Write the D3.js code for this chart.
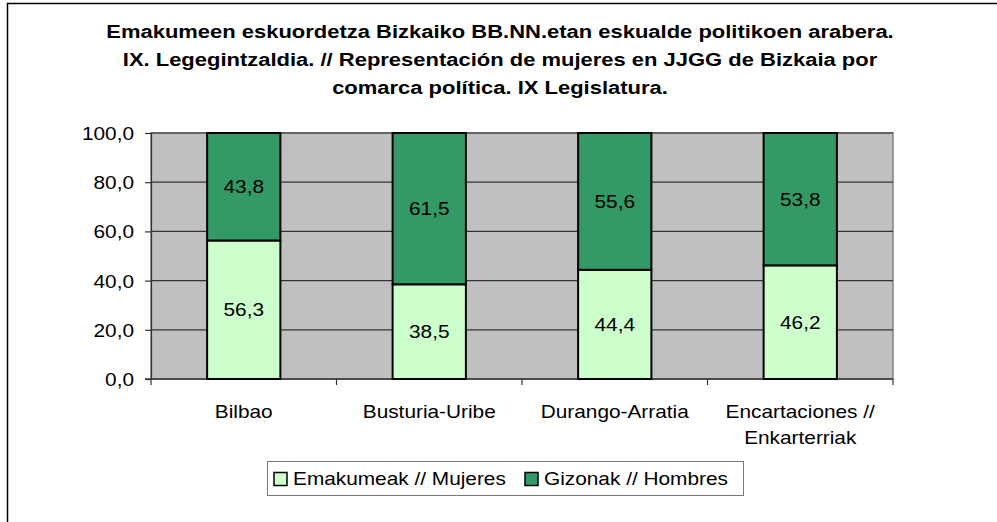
<!DOCTYPE html>
<html><head><meta charset="utf-8">
<script src="https://cdn.jsdelivr.net/npm/d3@7/dist/d3.min.js"></script>
<style>body{margin:0;background:#fff}svg{display:block;font-family:Arial,"Liberation Sans",sans-serif}</style>
</head><body><svg id="c" width="997" height="522"></svg>
<script>
const titleLines = ["Emakumeen eskuordetza Bizkaiko BB.NN.etan eskualde politikoen arabera.",
  "IX. Legegintzaldia. // Representación de mujeres en JJGG de Bizkaia por",
  "comarca política. IX Legislatura."];
const categories = [["Bilbao"],["Busturia-Uribe"],["Durango-Arratia"],["Encartaciones //","Enkarterriak"]];
const mujeres = [56.3, 38.5, 44.4, 46.2];
const hombres = [43.8, 61.5, 55.6, 53.8];
const seriesNames = ["Emakumeak // Mujeres", "Gizonak // Hombres"];
const yTicks = [0,20,40,60,80,100];
const colors = ["#ccffcc", "#339966"];

const SX = 1.157; // horizontal stretch of text in the reference
const FS = 18;
const fmt = v => d3.format(".1f")(v).replace(".", ",");

const svg = d3.select("#c");
svg.append("rect").attr("x",7.5).attr("y",3.5).attr("width",1000).attr("height",530)
  .attr("fill","#fff").attr("stroke","#000").attr("stroke-width",1.5);

function stxt(parent, x, y, str, opts={}) {
  const t = parent.append("text")
    .attr("transform", `translate(${x},${y}) scale(${SX},1)`)
    .attr("text-anchor", opts.anchor || "middle")
    .attr("font-size", opts.size || FS)
    .attr("fill", "#000")
    .text(str);
  if (opts.bold) t.attr("font-weight", "bold");
  return t;
}

const tg = svg.append("g");
titleLines.forEach((l,i)=> stxt(tg, 500, 38+i*28, l, {size:19, bold:true}));

const L=151, R=893, T=133, B=379;
const x = d3.scaleBand().domain(d3.range(categories.length)).range([L,R]).paddingInner(0.605).paddingOuter(0.3025);
const y = d3.scaleLinear().domain([0,100]).range([B,T]);

svg.append("rect").attr("x",L).attr("y",T).attr("width",R-L).attr("height",B-T)
  .attr("fill","#c0c0c0").attr("stroke","#808080").attr("stroke-width",1.5);

svg.append("g").selectAll("line").data(yTicks.filter(v=>v>0)).join("line")
  .attr("x1",L).attr("x2",R).attr("y1",d=>y(d)).attr("y2",d=>y(d))
  .attr("stroke","#333").attr("stroke-width",1.2);

// y axis
const yAxis = d3.axisLeft(y).tickValues(yTicks).tickSize(6).tickPadding(0).tickFormat(fmt);
const gy = svg.append("g").attr("transform",`translate(${L},0)`).call(yAxis);
gy.select(".domain").attr("stroke","#333").attr("stroke-width",1.2);
gy.selectAll(".tick line").attr("stroke","#333").attr("stroke-width",1.2);
gy.selectAll(".tick text")
  .attr("x", null).attr("dy", null)
  .attr("transform", `translate(-17,6.5) scale(${SX},1)`)
  .attr("font-size",FS).attr("fill","#000")
  .attr("font-family","Arial, 'Liberation Sans', sans-serif");

// x axis
const bw = (R-L)/categories.length;
svg.append("line").attr("x1",L-6).attr("x2",R).attr("y1",B).attr("y2",B).attr("stroke","#333").attr("stroke-width",1.5);
svg.append("g").selectAll("line").data(d3.range(categories.length+1)).join("line")
  .attr("x1",i=>L+i*bw).attr("x2",i=>L+i*bw).attr("y1",B).attr("y2",B+6).attr("stroke","#333").attr("stroke-width",1.2);

const stacks = categories.map((c,i)=>[[0,mujeres[i]],[mujeres[i],mujeres[i]+hombres[i]]]);
const g = svg.append("g");
const lg2 = svg.append("g");
stacks.forEach((s,i)=>{
  s.forEach((seg,j)=>{
    const top = Math.min(100, seg[1]);
    g.append("rect").attr("x",x(i)).attr("width",x.bandwidth())
      .attr("y",y(top)).attr("height",y(seg[0])-y(top))
      .attr("fill",colors[j]).attr("stroke","#000").attr("stroke-width",2);
    stxt(lg2, x(i)+x.bandwidth()/2, (y(seg[0])+y(top))/2+6.5, fmt(j===0?mujeres[i]:hombres[i]));
  });
});

const cg = svg.append("g");
categories.forEach((c,i)=>{
  c.forEach((line,k)=> stxt(cg, x(i)+x.bandwidth()/2, 417.5+k*26, line));
});

// legend
const lg = svg.append("g");
lg.append("rect").attr("x",267.5).attr("y",461.5).attr("width",476).attr("height",34)
  .attr("fill","#fff").attr("stroke","#777").attr("stroke-width",1);
const legX = [274, 525];
seriesNames.forEach((n,i)=>{
  lg.append("rect").attr("x",legX[i]).attr("y",472.5).attr("width",13).attr("height",13)
    .attr("fill",colors[i]).attr("stroke","#000").attr("stroke-width",1.5);
  stxt(lg, legX[i]+19, 484.5, n, {anchor:"start"});
});
</script></body></html>
